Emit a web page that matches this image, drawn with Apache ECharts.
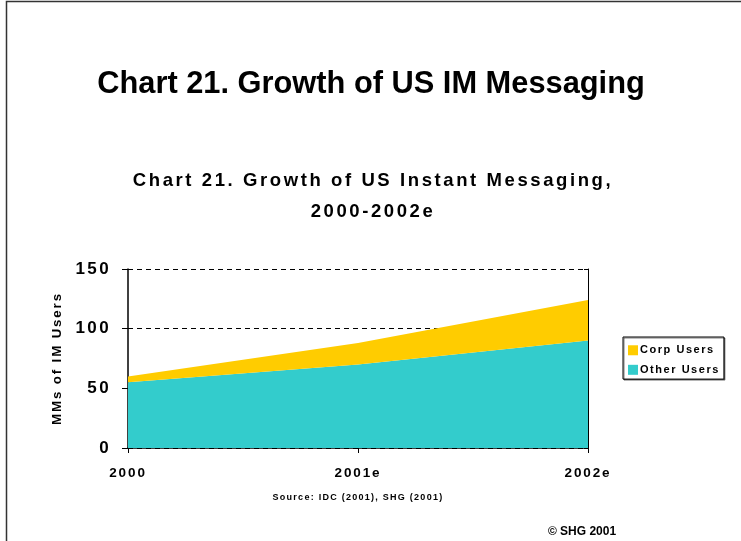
<!DOCTYPE html>
<html>
<head>
<meta charset="utf-8">
<script src="https://cdn.jsdelivr.net/npm/echarts@6/dist/echarts.min.js"></script>
<style>
  html, body { margin: 0; padding: 0; background: #fff; }
  #main { width: 741px; height: 541px; }
</style>
</head>
<body>
<div id="main"></div>
<script>
// data
var years = ['2000', '2001e', '2002e'];
var otherUsers = [55, 70, 90];
var corpUsers = [5, 18, 34];
var yTicks = [0, 50, 100, 150];

// the slide uses letter-spaced Arial for the chart texts; 'Arial' gets the spacing,
// 'Liberation Sans' stays tight (both are the same face here)
var spaced = 'Arial, Liberation Sans';
var tight = 'Liberation Sans';
['fillText', 'strokeText', 'measureText'].forEach(function (fn) {
  var orig = CanvasRenderingContext2D.prototype[fn];
  CanvasRenderingContext2D.prototype[fn] = function () {
    var m = this.font.indexOf('Arial') >= 0 && this.font.match(/([\d.]+)px/);
    this.letterSpacing = m ? (parseFloat(m[1]) * 0.14).toFixed(2) + 'px' : '0px';
    return orig.apply(this, arguments);
  };
});

var chart = echarts.init(document.getElementById('main'));

chart.setOption({
  backgroundColor: '#fff',
  animation: false,
  title: [
    {
      text: 'Chart 21. Growth of US IM Messaging',
      left: 366, top: 64, textAlign: 'center',
      textStyle: { fontFamily: tight, fontWeight: 'bold', fontSize: 30.8, color: '#000' }
    },
    {
      text: 'Chart 21. Growth of US Instant Messaging,\n2000-2002e',
      left: 368, top: 160, textAlign: 'center',
      textStyle: { fontFamily: spaced, fontWeight: 'bold', fontSize: 18.5, lineHeight: 31, color: '#000' }
    },
    {
      text: 'Source: IDC (2001), SHG (2001)',
      left: 353, top: 487, textAlign: 'center',
      textStyle: { fontFamily: spaced, fontWeight: 'bold', fontSize: 9, color: '#000' }
    },
    {
      text: '\u00a9 SHG 2001',
      left: 577, top: 521, textAlign: 'center',
      textStyle: { fontFamily: tight, fontWeight: 'bold', fontSize: 12, color: '#000' }
    }
  ],
  graphic: [
    {
      type: 'rect', silent: true,
      shape: { x: 6.5, y: 1.5, width: 800, height: 600 },
      style: { fill: 'none', stroke: '#333', lineWidth: 1.5 }
    }
  ],
  legend: {
    data: ['Corp Users', 'Other Users'],
    orient: 'vertical',
    left: 623, top: 337,
    padding: [7, 4, 3, 5],
    itemGap: 7,
    itemWidth: 10, itemHeight: 10,
    icon: 'rect',
    borderColor: '#000', borderWidth: 1,
    shadowColor: 'rgba(0,0,0,0.5)', shadowOffsetX: 1, shadowOffsetY: 1,
    backgroundColor: '#fff',
    textStyle: { fontFamily: spaced, fontWeight: 'bold', fontSize: 11, color: '#000', padding: [0, 0, 0, -3] }
  },
  grid: { left: 128, right: 153, top: 269, bottom: 93 },
  xAxis: {
    type: 'category',
    data: years,
    boundaryGap: false,
    axisLine: { lineStyle: { color: '#000', width: 1.5 } },
    axisTick: { alignWithLabel: true, length: 5, lineStyle: { color: '#000' } },
    axisLabel: { margin: 17, fontFamily: spaced, fontWeight: 'bold', fontSize: 13.5, color: '#000' },
    splitLine: { show: false }
  },
  yAxis: [
    {
      type: 'value',
      min: yTicks[0], max: yTicks[yTicks.length - 1], interval: 50,
      name: 'MMs of IM Users',
      nameLocation: 'middle', nameGap: 63, nameRotate: 90,
      nameTextStyle: { fontFamily: spaced, fontWeight: 'bold', fontSize: 13.3, color: '#000' },
      axisLine: { show: true, lineStyle: { color: '#000', width: 1.5 } },
      axisTick: { show: true, length: 6, lineStyle: { color: '#000' } },
      axisLabel: { margin: 17, fontFamily: spaced, fontWeight: 'bold', fontSize: 17, color: '#000' },
      splitLine: { show: true, lineStyle: { color: '#000', type: [5, 4], width: 1 } }
    },
    {
      type: 'value', position: 'right',
      min: yTicks[0], max: yTicks[yTicks.length - 1], interval: 50,
      axisLine: { show: true, lineStyle: { color: '#000', width: 1 } },
      axisTick: { show: true, inside: true, length: 4, lineStyle: { color: '#000' } },
      axisLabel: { show: false },
      splitLine: { show: false }
    }
  ],
  series: [
    {
      name: 'Other Users', type: 'line', stack: 'users',
      data: otherUsers,
      symbol: 'none',
      lineStyle: { width: 0 },
      itemStyle: { color: '#33CCCC' },
      areaStyle: { color: '#33CCCC', opacity: 1 }
    },
    {
      name: 'Corp Users', type: 'line', stack: 'users',
      data: corpUsers,
      symbol: 'none',
      lineStyle: { width: 0 },
      itemStyle: { color: '#FFCC00' },
      areaStyle: { color: '#FFCC00', opacity: 1 }
    }
  ]
});
</script>
</body>
</html>
